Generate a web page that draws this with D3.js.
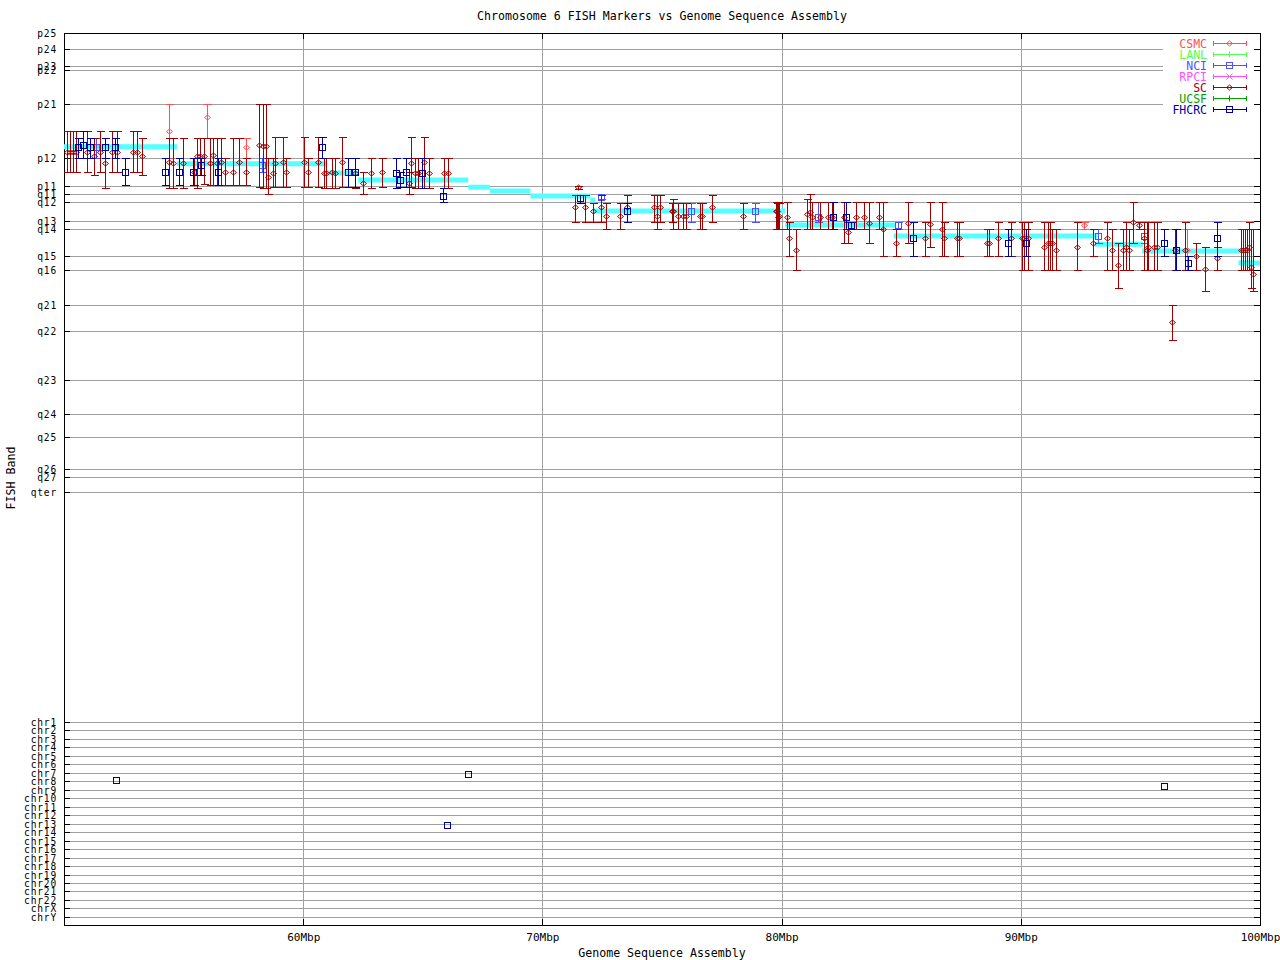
<!DOCTYPE html>
<html><head><meta charset="utf-8">
<script src="https://cdn.jsdelivr.net/npm/d3@7"></script>
<style>
body{margin:0;background:#fff;}
text{font-family:"DejaVu Sans Mono",monospace;}
</style></head>
<body><svg id="chart" width="1280" height="960"></svg>
<script>
// ---------- DATA ----------
const titleText = "Chromosome 6 FISH Markers vs Genome Sequence Assembly";
const xTitle = "Genome Sequence Assembly";
const yTitle = "FISH Band";
const xTickValues = [60, 70, 80, 90, 100];
const xTickLabels = ["60Mbp", "70Mbp", "80Mbp", "90Mbp", "100Mbp"];
const bandLabels = ["p25","p24","p23","p22","p21","p12","p11","q11","q12","q13","q14","q15","q16","q21","q22","q23","q24","q25","q26","q27","qter"];
const bandPos = [0,3.4,7.2,8.0,15.5,27.3,33.3,35.1,36.8,41.0,42.7,48.6,51.6,59.3,64.9,75.6,82.9,87.9,95.0,96.7,100];
const chrLabels = ["chr1","chr2","chr3","chr4","chr5","chr6","chr7","chr8","chr9","chr10","chr11","chr12","chr13","chr14","chr15","chr16","chr17","chr18","chr19","chr20","chr21","chr22","chrX","chrY"];
const chrPos = [150,151.9,153.7,155.6,157.4,159.3,161.1,163.0,164.8,166.7,168.5,170.4,172.2,174.1,175.9,177.8,179.6,181.5,183.3,185.2,187.0,188.9,190.7,192.6];

const sources = ["CSMC","LANL","NCI","RPCI","SC","UCSF","FHCRC"];
const sourceColors = ["#ff5050","#50ff50","#5050ff","#ff50ff","#a00000","#00a000","#0000a0"];
const sourceSymbols = ["diamond","plus","square","cross","diamond","plus","square"];

// sequence assembly (cyan): start Mb, end Mb, band position
const assemblyStart = [50.0,54.72,61.0,62.3,66.9,67.8,69.5,72.0,72.1,80.15,84.7,93.1,95.07,99.1];
const assemblyEnd   = [54.72,61.0,62.3,66.9,67.8,69.5,72.0,72.2,80.15,84.75,93.2,95.1,99.25,100];
const assemblyBand  = [24.8,28.5,30.5,32.0,33.6,34.4,35.5,36.4,38.8,41.8,44.2,46.0,47.5,50.1];

// markers: [Mb, band, bandTop, bandBottom]
const csmcMarkers = [
 [54.39,21.35,15.5,27.3],[55.98,18.3,15.5,22.8],[57.61,24.9,22.8,27.3],[92.64,41.8,41.1,42.6],[96.95,47.3,42.8,51.6]
];
const lanlMarkers = [];
const nciMarkers = [
 [51.34,24.9,22.8,27.3],[58.28,28.8,27.3,30.3],[72.45,35.7,35.3,36.1],[76.21,38.8,37.0,41.2],[78.89,38.8,37.0,41.2],
 [81.52,40.0,36.9,41.1],[84.87,41.8,41.1,42.8],[93.23,44.3,42.8,45.8],[95.15,44.3,42.8,45.8]
];
const rpciMarkers = [];
const scMarkers = [
 [50.13,25.9,21.4,30.3],[50.25,25.9,21.4,30.3],[50.38,25.9,21.4,30.3],[50.50,25.9,21.4,30.3],[50.96,25.9,21.4,30.3],
 [51.25,26.8,22.9,30.9],[51.51,25.9,21.4,30.3],[51.71,28.3,27.2,33.8],[52.01,25.9,21.4,30.3],[52.22,25.9,21.4,30.3],
 [52.88,25.9,21.4,30.3],[53.05,25.9,21.4,30.3],[53.26,26.8,22.9,30.9],[54.39,28.1,22.9,33.8],[54.56,28.3,22.9,33.8],
 [54.97,28.3,22.9,33.8],[55.43,30.3,27.2,33.1],[55.56,26.8,22.9,33.8],[55.69,26.8,22.9,30.9],[55.85,26.8,22.9,32.9],
 [56.10,28.3,22.9,33.1],[56.23,26.6,22.9,33.1],[56.40,28.3,22.9,33.1],[56.56,28.0,22.9,33.1],[56.73,30.3,27.2,33.1],
 [57.07,30.3,22.9,33.1],[57.32,28.0,22.9,33.1],[57.61,30.3,27.2,33.1],[58.15,24.4,15.5,33.6],[58.32,24.6,15.5,33.8],
 [58.44,24.6,15.5,33.8],[58.53,31.4,27.2,35.1],[58.74,30.5,27.2,33.6],[58.82,28.3,22.65,33.6],[59.16,28.1,22.65,33.6],
 [59.28,30.3,27.2,33.6],[60.03,28.1,22.65,33.6],[60.20,30.3,27.2,33.6],[60.62,28.1,22.65,33.6],[60.87,30.5,27.2,33.8],
 [60.95,30.5,27.2,33.8],[61.20,30.3,27.2,33.8],[61.33,30.5,27.2,33.8],[61.62,28.1,22.65,33.6],[62.17,30.5,27.2,33.8],
 [62.50,32.7,30.3,35.1],[62.83,30.5,27.2,33.8],[63.29,30.3,27.2,33.6],[64.42,32.7,30.3,35.1],[64.51,28.3,22.65,33.6],
 [64.67,30.5,27.2,33.8],[64.80,30.5,27.2,33.8],[65.05,28.1,22.65,33.8],[65.26,30.5,27.2,33.8],[65.89,30.5,27.2,33.8],
 [66.05,30.5,27.2,33.8],
 [71.49,33.6,33.3,33.9],[71.36,37.9,35.3,41.2],[71.78,37.9,35.3,41.2],[72.12,38.8,37.0,41.2],[72.45,37.9,35.3,41.2],
 [72.66,39.9,37.0,42.7],[73.24,39.9,37.0,42.7],[73.54,37.9,35.3,41.2],[74.67,37.9,35.3,41.2],[74.79,39.9,35.3,42.7],
 [74.92,37.9,35.3,41.2],[75.42,38.8,37.0,41.2],[75.46,38.8,36.2,42.7],[75.67,39.9,37.0,42.7],[75.88,39.9,37.0,42.7],
 [76.00,39.9,37.0,42.7],[76.59,39.9,37.0,42.7],[76.67,39.9,37.0,42.7],[77.09,37.9,35.3,41.2],[78.39,39.9,37.0,42.7],
 [79.81,38.8,37.0,42.7],[79.89,39.9,37.0,42.7],[79.77,38.8,36.9,42.8],[79.85,40.0,36.9,42.8],
 [80.23,40.0,36.9,42.8],[80.31,44.7,41.1,48.6],[80.60,47.3,42.8,51.6],[81.06,39.5,36.2,42.8],[81.19,38.9,35.1,42.8],
 [81.27,40.0,36.9,42.8],[81.61,40.0,36.9,42.8],[81.94,40.0,36.9,42.8],[82.11,40.0,36.9,42.8],[82.61,40.0,36.9,45.8],
 [82.78,43.4,41.1,45.8],[83.11,40.0,36.9,42.8],[83.44,40.0,36.9,42.8],[83.65,41.3,36.9,45.8],[84.07,40.0,36.9,42.8],
 [84.24,42.7,36.9,48.6],[84.78,45.8,42.8,48.6],[85.28,41.3,36.9,45.8],[86.00,44.7,41.1,48.6],[86.20,41.7,36.9,46.7],
 [86.71,42.7,36.9,48.6],[86.79,44.7,41.1,48.6],[87.33,44.7,41.1,48.6],[87.42,44.7,41.1,48.6],[88.59,45.8,42.8,48.6],
 [88.67,45.8,42.8,48.6],[89.05,44.7,41.1,48.6],[89.59,44.7,41.1,48.6],
 [90.05,44.7,41.1,51.6],[90.13,44.7,41.1,51.6],[90.30,44.7,41.1,51.6],[90.97,46.6,41.1,51.6],[91.14,45.8,41.1,51.6],
 [91.22,45.8,41.1,51.6],[91.30,45.8,42.8,51.6],[91.47,47.3,42.8,51.6],[92.35,46.6,41.1,51.6],[93.02,45.8,42.8,48.6],
 [93.60,44.7,41.1,51.6],[93.81,47.3,42.8,51.6],[94.06,50.6,45.8,55.6],[94.27,47.3,42.8,51.6],[94.40,46.6,41.1,51.6],
 [94.52,47.3,42.8,51.6],[94.69,41.2,36.9,45.8],[94.94,41.8,41.1,42.8],[95.15,44.7,41.1,51.6],[95.28,47.3,41.1,51.6],
 [95.32,46.6,41.1,51.6],[95.57,46.6,41.1,51.6],[95.69,46.6,41.1,51.6],[96.32,63.0,59.3,66.9],[96.45,47.3,42.8,51.6],
 [96.86,47.3,41.1,51.6],[97.32,48.6,45.8,51.6],[97.70,51.5,46.7,56.2],[98.20,49.1,46.7,51.6],[99.21,47.3,42.8,51.6],
 [99.29,47.3,42.8,51.6],[99.37,47.3,42.8,51.6],[99.46,47.3,42.8,51.6],[99.54,46.6,41.1,51.6],[99.62,51.0,42.8,55.6],
 [99.71,52.5,42.8,56.2]
];
const ucsfMarkers = [];
const fhcrcMarkers = [
 [50.59,24.9,22.8,27.3],[50.79,24.3,21.35,27.3],[51.09,24.9,22.8,27.3],[51.71,24.9,22.8,27.3],[52.13,24.9,22.8,27.3],
 [52.55,30.3,27.3,33.1],[54.22,30.3,27.3,33.1],[54.81,30.3,27.3,33.1],[55.39,30.3,27.3,33.1],[55.73,28.8,27.3,30.9],
 [56.44,30.3,27.3,33.1],[60.79,24.9,22.7,27.3],[61.87,30.3,27.3,33.5],[62.17,30.3,27.3,33.5],[63.88,30.6,27.3,33.8],
 [64.05,32.1,30.3,33.5],[64.30,30.3,27.3,33.5],[64.97,30.6,27.3,33.8],[65.84,35.4,33.8,36.8],[71.57,36.0,35.3,37.0],
 [73.54,38.8,37.0,41.2],[82.15,40.0,36.9,42.8],[82.69,40.0,36.9,42.8],[82.90,41.8,41.1,42.8],[85.49,44.7,41.1,48.6],
 [89.46,45.8,42.8,48.6],[90.22,45.8,42.8,48.6],[95.99,45.8,42.8,48.6],[96.49,47.3,42.8,51.6],[96.99,50.1,48.6,51.6],
 [98.20,44.7,41.1,48.6],
 // placed on other chromosomes
 [52.17,162.7,162.7,162.7],[66.89,161.4,161.4,161.4],[66.01,172.5,172.5,172.5],[95.99,164.1,164.1,164.1]
];
const markerSets = [csmcMarkers, lanlMarkers, nciMarkers, rpciMarkers, scMarkers, ucsfMarkers, fhcrcMarkers];

// ---------- DRAW ----------
const svg = d3.select("#chart");
const L = 64, R = 1260, T = 33, B = 925;
const x = d3.scaleLinear().domain([50, 100]).range([L, R]);
const y = d3.scaleLinear().domain([0, 194.3]).range([T, B]);
const px = v => Math.round(v) + 0.5;

svg.append("rect").attr("width", 1280).attr("height", 960).attr("fill", "#fff");

const allPos = bandPos.concat(chrPos);
const allLabels = bandLabels.concat(chrLabels);

// grid
const grid = svg.append("g").attr("stroke", "#a0a0a0").attr("stroke-width", 1).attr("shape-rendering", "crispEdges");
grid.selectAll("line.h").data(allPos).join("line").attr("class", "h")
  .attr("x1", L).attr("x2", R).attr("y1", d => px(y(d))).attr("y2", d => px(y(d)));
grid.selectAll("line.v").data(xTickValues.filter(v => v < 100)).join("line").attr("class", "v")
  .attr("x1", d => px(x(d))).attr("x2", d => px(x(d))).attr("y1", T).attr("y2", B);

// legend background
svg.append("rect").attr("x", 1163).attr("y", 36).attr("width", 92).attr("height", 79).attr("fill", "#fff");

// axes
const fmtY = (d, i) => allLabels[i];
const axL = svg.append("g").attr("transform", `translate(${L},0)`)
  .call(d3.axisLeft(y).tickValues(allPos).tickFormat(fmtY).tickSizeInner(-6).tickSizeOuter(0).tickPadding(7));
const axR = svg.append("g").attr("transform", `translate(${R},0)`)
  .call(d3.axisRight(y).tickValues(allPos).tickFormat("").tickSizeInner(-6).tickSizeOuter(0));
const axB = svg.append("g").attr("transform", `translate(0,${B})`)
  .call(d3.axisBottom(x).tickValues(xTickValues).tickFormat((d, i) => xTickLabels[i]).tickSizeInner(-6).tickSizeOuter(0).tickPadding(8));
const axT = svg.append("g").attr("transform", `translate(0,${T})`)
  .call(d3.axisTop(x).tickValues(xTickValues).tickFormat("").tickSizeInner(-6).tickSizeOuter(0));
[axL, axR, axB, axT].forEach(a => {
  a.select(".domain").remove();
  a.attr("font-family", null).attr("font-size", null);
  a.selectAll("line").attr("stroke", "#000").attr("shape-rendering", "crispEdges");
  a.selectAll("text").attr("fill", "#000").style("font-size", "11px");
});
axL.selectAll(".tick").attr("transform", d => `translate(0,${px(y(d))})`);
axL.selectAll(".tick text").style("font-size", "9.6px").style("letter-spacing", "0.8px").attr("dy", "0.36em");
axR.selectAll(".tick").attr("transform", d => `translate(0,${px(y(d))})`);
axB.selectAll(".tick text").attr("dy", "0.71em");

// frame
svg.append("rect").attr("x", L + 0.5).attr("y", T + 0.5).attr("width", R - L).attr("height", B - T)
  .attr("fill", "none").attr("stroke", "#000").attr("shape-rendering", "crispEdges");

// assembly (cyan)
const asm = assemblyStart.map((s, i) => ({ s, e: assemblyEnd[i], b: assemblyBand[i] }));
svg.append("g").selectAll("line").data(asm).join("line")
  .attr("x1", d => x(d.s)).attr("x2", d => x(d.e))
  .attr("y1", d => y(d.b)).attr("y2", d => y(d.b))
  .attr("stroke", "#55ffff").attr("stroke-width", 5);

function drawSymbol(g, type, cx, cy, color) {
  if (type === "diamond") {
    g.append("path").attr("d", `M${cx - 3},${cy}L${cx},${cy - 2.5}L${cx + 3},${cy}L${cx},${cy + 2.5}Z`)
      .attr("fill", "none").attr("stroke", color);
  } else if (type === "square") {
    g.append("rect").attr("x", cx - 3).attr("y", cy - 3).attr("width", 6).attr("height", 6)
      .attr("fill", "none").attr("stroke", color).attr("shape-rendering", "crispEdges");
  } else if (type === "plus") {
    g.append("path").attr("d", `M${cx - 3},${cy}H${cx + 3}M${cx},${cy - 3}V${cy + 3}`).attr("stroke", color);
  } else if (type === "cross") {
    g.append("path").attr("d", `M${cx - 3},${cy - 3}L${cx + 3},${cy + 3}M${cx - 3},${cy + 3}L${cx + 3},${cy - 3}`).attr("stroke", color);
  }
}

// markers
markerSets.forEach((set, si) => {
  const color = sourceColors[si];
  const g = svg.append("g").attr("stroke-width", 1);
  set.forEach(m => {
    const cx = px(x(m[0])), cy = Math.round(y(m[1])) + 0.5;
    const y1 = px(y(m[2])), y2 = px(y(m[3]));
    const mg = g.append("g").attr("shape-rendering", "crispEdges");
    if (y2 - y1 > 0) {
      mg.append("line").attr("x1", cx).attr("x2", cx).attr("y1", y1).attr("y2", y2).attr("stroke", color);
      mg.append("line").attr("x1", cx - 4).attr("x2", cx + 4).attr("y1", y1).attr("y2", y1).attr("stroke", color);
      mg.append("line").attr("x1", cx - 4).attr("x2", cx + 4).attr("y1", y2).attr("y2", y2).attr("stroke", color);
    }
    drawSymbol(g, sourceSymbols[si], cx, cy, color);
  });
});

// legend
const legY0 = 43, legDy = 11;
sources.forEach((name, i) => {
  const ly = legY0 + i * legDy + 0.5;
  const c = sourceColors[i];
  const g = svg.append("g");
  g.append("text").attr("x", 1207).attr("y", ly + 4).attr("text-anchor", "end")
    .attr("fill", c).style("font-size", "11.5px").text(name);
  g.append("line").attr("x1", 1213).attr("x2", 1247).attr("y1", ly).attr("y2", ly).attr("stroke", c).attr("shape-rendering", "crispEdges");
  g.append("line").attr("x1", 1213.5).attr("x2", 1213.5).attr("y1", ly - 2.5).attr("y2", ly + 2.5).attr("stroke", c);
  g.append("line").attr("x1", 1246.5).attr("x2", 1246.5).attr("y1", ly - 2.5).attr("y2", ly + 2.5).attr("stroke", c);
  drawSymbol(g, sourceSymbols[i], 1229.5, ly, c);
});

// titles
svg.append("text").attr("x", 662).attr("y", 19.5).attr("text-anchor", "middle").style("font-size", "11.6px").text(titleText);
svg.append("text").attr("x", 662).attr("y", 957).attr("text-anchor", "middle").style("font-size", "11.6px").text(xTitle);
svg.append("text").attr("transform", "translate(15,478) rotate(-90)").attr("text-anchor", "middle").style("font-size", "11.6px").text(yTitle);
</script>
</body></html>
